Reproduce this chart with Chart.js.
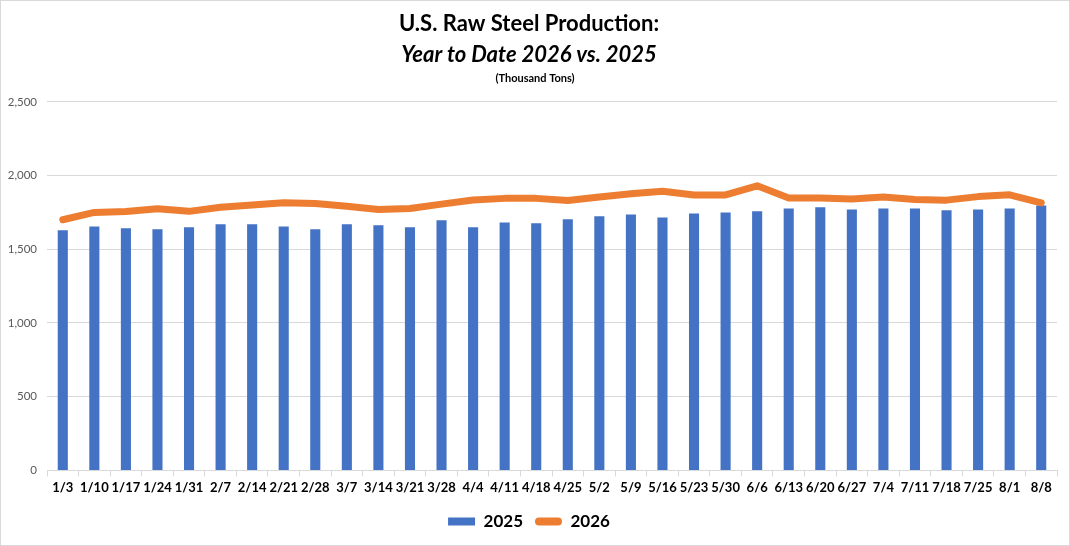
<!DOCTYPE html>
<html>
<head>
<meta charset="utf-8">
<script src="https://cdn.jsdelivr.net/npm/chart.js@4/dist/chart.umd.min.js"></script>
<style>
  html, body { margin: 0; padding: 0; background: #fff; }
  #wrap { width: 1068px; height: 544px; border: 1px solid #d9d9d9; position: relative; }
</style>
</head>
<body>
<div id="wrap"><canvas id="myChart" width="1068" height="544"></canvas></div>
<script>
let labels = ["1/3", "1/10", "1/17", "1/24", "1/31", "2/7", "2/14", "2/21", "2/28", "3/7", "3/14", "3/21", "3/28", "4/4", "4/11", "4/18",
  "4/25", "5/2", "5/9", "5/16", "5/23", "5/30", "6/6", "6/13", "6/20", "6/27", "7/4", "7/11", "7/18", "7/25", "8/1", "8/8"];

let prod2025 = [1628, 1655, 1642, 1635, 1649, 1669, 1669, 1655, 1635, 1669, 1662, 1649, 1696, 1649, 1682, 1676,
  1703, 1723, 1736, 1716, 1743, 1750, 1757, 1777, 1784, 1770, 1777, 1777, 1764, 1770, 1777, 1797];

let prod2026 = [1700, 1750, 1756, 1775, 1757, 1785, 1800, 1815, 1810, 1792, 1770, 1776, 1806, 1834, 1845, 1845,
  1830, 1854, 1877, 1893, 1868, 1868, 1930, 1848, 1847, 1840, 1854, 1838, 1833, 1857, 1869, 1815];

let yMax = 2500;
let yStep = 500;

const FONT = "Lato, 'Open Sans', sans-serif";

// third title line, drawn under the subtitle
const unitsLine = {
  id: "unitsLine",
  afterDraw(chart) {
    const c = chart.ctx;
    c.save();
    c.font = "bold 11px " + FONT;
    c.fillStyle = "#000";
    c.textAlign = "center";
    c.textBaseline = "middle";
    c.fillText("(Thousand Tons)", chart.width / 2, 77);
    c.restore();
  },
};

let ctx = document.getElementById("myChart").getContext("2d");

let myChart = new Chart(ctx, {
  data: {
    labels: labels,
    datasets: [
      {
        type: "bar",
        label: "2025",
        data: prod2025,
        backgroundColor: "#4472C4",
        borderWidth: 0,
        categoryPercentage: 1,
        barPercentage: 0.32,
        order: 1,
      },
      {
        type: "line",
        label: "2026",
        data: prod2026,
        borderColor: "#ED7D31",
        backgroundColor: "#ED7D31",
        borderWidth: 7,
        borderCapStyle: "round",
        borderJoinStyle: "round",
        pointRadius: 0,
        tension: 0,
        fill: false,
        order: 0,
      },
    ],
  },
  options: {
    responsive: false,
    animation: false,
    layout: { padding: { left: 0, right: 12, bottom: 5 } },
    plugins: {
      title: {
        display: true,
        text: "U.S. Raw Steel Production:",
        color: "#000",
        font: { family: FONT, size: 22, weight: "bold" },
        padding: { top: 10, bottom: 2 },
      },
      subtitle: {
        display: true,
        text: "Year to Date 2026 vs. 2025",
        color: "#000",
        font: { family: FONT, size: 22, weight: "bold", style: "italic" },
        padding: { top: 2, bottom: 34 },
      },
      legend: {
        position: "bottom",
        labels: {
          color: "#000",
          font: { family: FONT, size: 17, weight: "bold" },
          boxWidth: 27,
          boxHeight: 8,
          padding: 12,
          useBorderRadius: true,
          generateLabels(chart) {
            const items = Chart.defaults.plugins.legend.labels.generateLabels(chart);
            items.sort((a, b) => a.datasetIndex - b.datasetIndex);
            items.forEach((it) => {
              it.lineWidth = 0;
              it.borderRadius = it.datasetIndex === 1 ? 4 : 0;
            });
            return items;
          },
        },
      },
      tooltip: { enabled: false },
    },
    scales: {
      x: {
        grid: {
          offset: true,
          drawOnChartArea: false,
          tickLength: 6,
          color: "#d9d9d9",
        },
        border: { color: "#d9d9d9" },
        afterFit(scale) {
          scale.height = scale.height + 1;
        },
        ticks: {
          color: "#000",
          font: { family: FONT, size: 13, weight: "bold" },
          maxRotation: 0,
          autoSkip: false,
          padding: 4,
        },
      },
      y: {
        min: 0,
        max: yMax,
        grid: { color: "#d9d9d9", drawTicks: false },
        border: { display: false },
        afterFit(scale) {
          scale.width = 46;
        },
        ticks: {
          stepSize: yStep,
          color: "#595959",
          font: { family: FONT, size: 11.5 },
          padding: 10,
          callback: (v) => v.toLocaleString("en-US"),
        },
      },
    },
  },
  plugins: [unitsLine],
});
</script>
</body>
</html>
